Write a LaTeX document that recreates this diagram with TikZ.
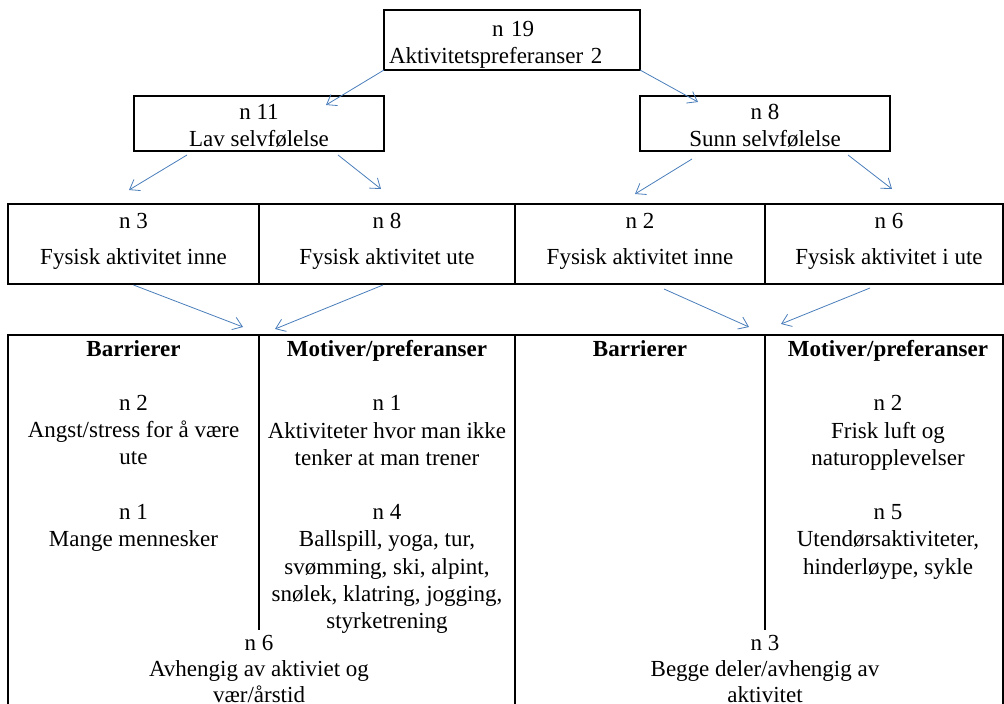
\documentclass[tikz,border=0pt]{standalone}
\usepackage{fontspec}
\setmainfont{Liberation Serif}
\usepackage{xcolor}
\usepackage{tikz}
\usetikzlibrary{arrows.meta,positioning}
\definecolor{PrefBlue}{HTML}{4A7EBB}

\begin{document}
\begin{tikzpicture}[
  x=1pt, y=-1pt,
  font=\fontsize{23pt}{27.2pt}\selectfont,
  box/.style={draw, line width=1.5pt, outer sep=0pt, minimum height=55pt, minimum width=250pt, align=center, inner sep=0pt},
  cell/.style={draw, line width=1.5pt, outer sep=0pt, minimum height=80pt, inner sep=0pt},
  txt/.style={align=center, inner sep=0pt, anchor=north},
  tabline/.style={line width=1.5pt},
  arrow/.style={-{Straight Barb[length=9pt,width=13pt]}, draw=PrefBlue, line width=0.8pt}
]
  \useasboundingbox (0,0) rectangle (1004,704);

  \node[box, minimum width=256pt, minimum height=60pt, text width=246pt, align=left] (root) at (512,40) {\rule{0pt}{25pt}\hspace*{103pt}n 19\\Aktivitetspreferanser 2};
  \node[box] (n11) at (259,123.5) {\rule{0pt}{19.5pt}n 11\\Lav selvfølelse};
  \node[box, right=256pt of n11] (n8) {\rule{0pt}{19.5pt}n 8\\Sunn selvfølelse};

  \node[cell, minimum width=251pt] (c1) at (133.5,244) {};
  \node[cell, minimum width=256pt, right=0pt of c1] (c2) {};
  \node[cell, minimum width=250pt, right=0pt of c2] (c3) {};
  \node[cell, minimum width=238pt, right=0pt of c3] (c4) {};
  \node[txt, below=9.5pt of c1.north] (c1t) {n 3\\[8pt]Fysisk aktivitet inne};
  \node[txt, below=9.5pt of c2.north] (c2t) {n 8\\[8pt]Fysisk aktivitet ute};
  \node[txt, below=9.5pt of c3.north] (c3t) {n 2\\[8pt]Fysisk aktivitet inne};
  \node[txt, below=9.5pt of c4.north, xshift=5pt] (c4t) {n 6\\[8pt]Fysisk aktivitet i ute};

  \draw[tabline] (8,704) -- (8,335) -- (1003,335) -- (1003,704);
  \draw[tabline] (515,335) -- (515,704);
  \draw[tabline] (259,335) -- (259,630);
  \draw[tabline] (765,335) -- (765,630);
  \coordinate (sepL) at (259,335);
  \coordinate (sepR) at (765,335);

  \node[txt] (barA) at (133.5,340) {\textbf{Barrierer}\\[27.2pt]n 2\\Angst/stress for å være\\ute\\[27.2pt]n 1\\Mange mennesker};
  \node[txt] (motA) at (387,340) {\textbf{Motiver/preferanser}\\[27.2pt]n 1\\Aktiviteter hvor man ikke\\tenker at man trener\\[27.2pt]n 4\\Ballspill, yoga, tur,\\svømming, ski, alpint,\\snølek, klatring, jogging,\\styrketrening};
  \node[txt] (barB) at (640,340) {\textbf{Barrierer}};
  \node[txt] (motB) at (888,340) {\textbf{Motiver/preferanser}\\[27.2pt]n 2\\Frisk luft og\\naturopplevelser\\[27.2pt]n 5\\Utendørsaktiviteter,\\hinderløype, sykle};
  \node[txt] (bothA) at (259,635.5) {n 6\\[-1.5pt]Avhengig av aktiviet og\\[-1.5pt]vær/årstid};
  \node[txt] (bothB) at (765,635.5) {n 3\\[-1.5pt]Begge deler/avhengig av\\[-1.5pt]aktivitet};

  \draw[arrow] (root.south west) -- ([xshift=-58pt,yshift=-9pt]n11.north east);
  \draw[arrow] (root.south east) -- ([xshift=58pt,yshift=-6pt]n8.north west);
  \draw[arrow] ([xshift=-72pt,yshift=-4pt]n11.south) -- ([xshift=-4.5pt,yshift=14pt]c1.north);
  \draw[arrow] ([xshift=79pt,yshift=-4pt]n11.south) -- ([xshift=-6pt,yshift=15pt]c2.north);
  \draw[arrow] ([xshift=-73pt,yshift=-8pt]n8.south) -- ([xshift=-5pt,yshift=10pt]c3.north);
  \draw[arrow] ([xshift=83pt,yshift=-4pt]n8.south) -- ([xshift=8pt,yshift=15pt]c4.north);
  \draw[arrow] ([yshift=-1pt]c1.south) -- ([xshift=-16pt,yshift=8pt]sepL);
  \draw[arrow] ([xshift=-4pt,yshift=-1pt]c2.south) -- ([xshift=16pt,yshift=6pt]sepL);
  \draw[arrow] ([xshift=24pt,yshift=-5pt]c3.south) -- ([xshift=-16pt,yshift=8pt]sepR);
  \draw[arrow] ([xshift=-14pt,yshift=-4pt]c4.south) -- ([xshift=16pt,yshift=11pt]sepR);
\end{tikzpicture}
\end{document}
